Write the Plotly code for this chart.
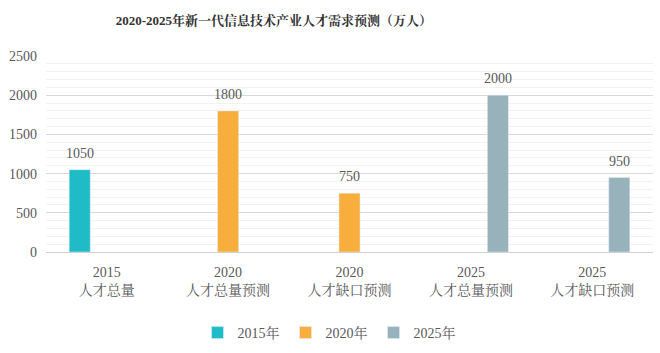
import plotly.graph_objects as go

categories = ["2015<br>人才总量", "2020<br>人才总量预测", "2020<br>人才缺口预测",
              "2025<br>人才总量预测", "2025<br>人才缺口预测"]
series_names = ["2015年", "2020年", "2025年"]
v2015 = [1050, None, None, None, None]
v2020 = [None, 1800, 750, None, None]
v2025 = [None, None, None, 2000, 950]
colors = ["#1FBCC8", "#F8AE3C", "#98B2BC"]
yticks = [0, 500, 1000, 1500, 2000, 2500]

FONT = "Liberation Serif, Noto Serif CJK SC, Noto Sans CJK SC, serif"
TXT = "#595959"
SLOT_PX = 27  # horizontal offset of each series slot within a group

fig = go.Figure()
annotations = []
for i, (name, vals, c) in enumerate(zip(series_names, [v2015, v2020, v2025], colors)):
    fig.add_trace(go.Bar(name=name, x=categories, y=vals, marker_color=c))
    for cat, v in zip(categories, vals):
        if v is None:
            continue
        annotations.append(dict(
            x=cat, y=v, xref="x", yref="y", text=str(v), showarrow=False,
            xshift=(i - 1) * SLOT_PX, yshift=7, yanchor="bottom",
            font=dict(size=14, color=TXT, family=FONT)))

fig.update_layout(
    width=660, height=353,
    margin=dict(l=46, r=7, t=56, b=101),
    paper_bgcolor="white", plot_bgcolor="white",
    barmode="group", bargap=0.333, bargroupgap=0.22,
    font=dict(family=FONT, color=TXT, size=14),
    annotations=annotations,
    title=dict(text="<b>2020-2025年新一代信息技术产业人才需求预测（万人）</b>",
               x=0.415, xanchor="center", xref="container",
               y=1 - 20 / 353, yanchor="middle", yref="container",
               font=dict(size=13, color="#333333", family=FONT)),
    showlegend=True,
    legend=dict(orientation="h", xref="container", x=0.5, xanchor="center",
                yref="container", y=1 - 333 / 353, yanchor="middle",
                font=dict(size=14, color=TXT, family=FONT),
                itemwidth=30, entrywidth=0.145, entrywidthmode="fraction",
                traceorder="normal"),
    yaxis=dict(range=[0, 2500], tickvals=yticks, showgrid=True,
               gridcolor="#D9D9D9", gridwidth=1,
               minor=dict(dtick=100, showgrid=True, gridcolor="#F2F2F2", gridwidth=1),
               zeroline=True, zerolinecolor="#D0D0D0", zerolinewidth=1,
               tickfont=dict(size=14, color=TXT, family=FONT), ticks="",
               ticklabelstandoff=8, showline=False),
    xaxis=dict(showgrid=False, showline=False, ticks="",
               ticklabelstandoff=10,
               tickfont=dict(size=14, color=TXT, family=FONT)),
)

fig.write_html("out.html")
